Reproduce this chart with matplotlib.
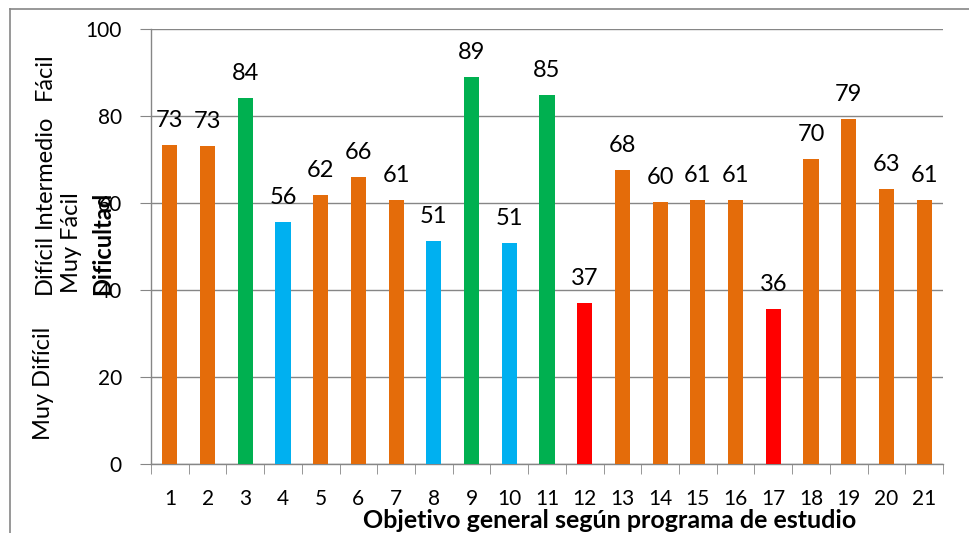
import matplotlib
matplotlib.use("Agg")
import matplotlib.pyplot as plt
from matplotlib.lines import Line2D
import numpy as np

# data
objetivos = [str(i) for i in range(1, 22)]
valores = [73.3, 73.1, 84.1, 55.7, 61.9, 66.0, 60.8, 51.3, 89.0, 50.8, 84.8,
           37.0, 67.6, 60.2, 60.6, 60.7, 35.6, 70.2, 79.3, 63.3, 60.8]
nivel = ["fac", "fac", "mfac", "int", "fac", "fac", "fac", "int", "mfac", "int", "mfac",
         "dif", "fac", "fac", "fac", "fac", "dif", "fac", "fac", "fac", "fac"]
niveles_izq = ["Muy Difícil", "Difícil", "Intermedio", "Fácil"]

ORANGE = "#E46C0A"; GREEN = "#00B050"; BLUE = "#00B0F0"; RED = "#FF0000"
GRAY = "#868686"
colores = {"fac": ORANGE, "mfac": GREEN, "int": BLUE, "dif": RED}

plt.rcParams["font.family"] = ["Lato", "DejaVu Sans"]

W, H = 969, 533
fig = plt.figure(figsize=(W / 100, H / 100), dpi=100)
ax = fig.add_axes([151 / W, 1 - 464 / H, (943 - 151) / W, (464 - 29) / H])

x = np.arange(len(valores))
ax.bar(x, valores, width=0.4, color=[colores[n] for n in nivel], zorder=3)
for xi, v in zip(x, valores):
    ax.text(xi, v + 3.2, f"{v:.0f}", ha="center", va="bottom", fontsize=17, color="black")

ax.set_xlim(-0.5, len(valores) - 0.5)
ax.set_ylim(0, 100)
ax.set_yticks(range(0, 101, 20))
ax.yaxis.grid(True, color=GRAY, lw=1.0, zorder=0)
ax.set_xticks(x)
ax.set_xticklabels(objetivos)
ax.set_xticks(np.arange(-0.5, len(valores)), minor=True)
ax.tick_params(axis="x", which="major", length=0, pad=18, labelsize=15)
ax.tick_params(axis="x", which="minor", length=7, color=GRAY, direction="out")
ax.tick_params(axis="y", length=8, color=GRAY, labelsize=15, pad=13)
for s in ["top", "right"]:
    ax.spines[s].set_visible(False)
for s in ["left", "bottom"]:
    ax.spines[s].set_color(GRAY)
    ax.spines[s].set_linewidth(1.0)

fig.text(610 / W, 1 - 520 / H, "Objetivo general según programa de estudio",
         ha="center", va="center", fontsize=18, weight="bold")

# stacked axis titles on the left (they overlap in the original too)
pos_izq = [383, 264, 171, 76]
for t, yp in zip(niveles_izq, pos_izq):
    fig.text(44 / W, 1 - yp / H, t, rotation=90, ha="center", va="center", fontsize=17)
fig.text(72 / W, 1 - 243 / H, "Muy Fácil", rotation=90, ha="center", va="center", fontsize=17)
fig.text(103 / W, 1 - 243 / H, "Dificultad", rotation=90, ha="center", va="center",
         fontsize=17, weight="bold")

# chart area frame (cut off at right and bottom)
fig.add_artist(Line2D([10 / W, 1.0], [1 - 9 / H, 1 - 9 / H], color=GRAY, lw=1.2))
fig.add_artist(Line2D([10 / W, 10 / W], [0.0, 1 - 9 / H], color=GRAY, lw=1.2))

fig.savefig("out.png", dpi=100)
